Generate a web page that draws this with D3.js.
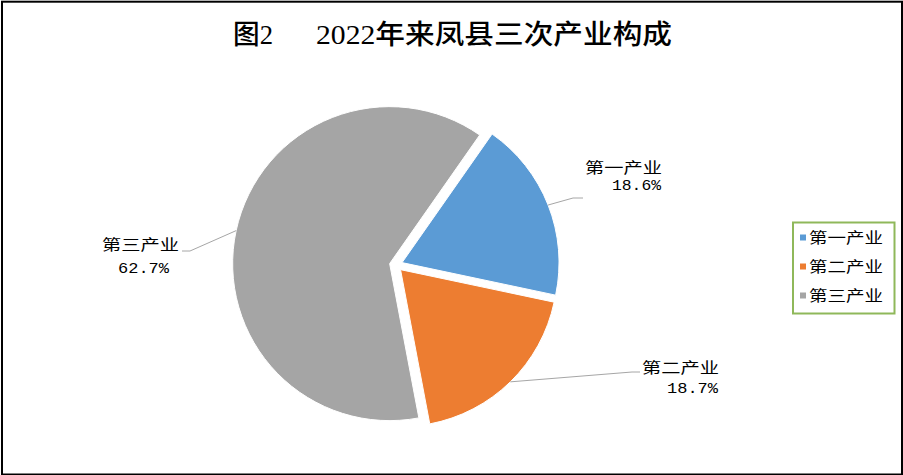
<!DOCTYPE html>
<html lang="zh">
<head>
<meta charset="UTF-8">
<script src="https://d3js.org/d3.v7.min.js"></script>
<title>2022年来凤县三次产业构成</title>
<style>
  body { margin: 0; background: #fff; }
  .lbl { font-family: "Noto Sans CJK SC", sans-serif; font-size: 15px; fill: #000; }
  .num { font-family: "Liberation Mono", "DejaVu Sans Mono", monospace; font-size: 15px; fill: #000; }
  .title { font-family: "Liberation Serif", "Noto Sans CJK SC", serif; font-size: 27px; font-weight: 500; fill: #000; }
</style>
</head>
<body>
<svg id="chart" width="903" height="475"></svg>
<script>
// data
const categories = ["第一产业", "第二产业", "第三产业"];
const shares = [18.6, 18.7, 62.7];
const valueLabels = ["18.6%", "18.7%", "62.7%"];
const colors = ["#5b9bd5", "#ed7d31", "#a5a5a5"];

const svg = d3.select("#chart");

// chart border
svg.append("rect")
  .attr("x", 2).attr("y", 1.7).attr("width", 900).attr("height", 472.8)
  .attr("fill", "#fff").attr("stroke", "#000").attr("stroke-width", 2);

// title
svg.append("text").attr("class", "title")
  .attr("x", 233).attr("y", 35).attr("dominant-baseline", "central")
  .attr("textLength", 40).attr("lengthAdjust", "spacingAndGlyphs")
  .text("图2");
svg.append("text").attr("class", "title")
  .attr("x", 316).attr("y", 35).attr("dominant-baseline", "central")
  .attr("textLength", 356).attr("lengthAdjust", "spacingAndGlyphs")
  .text("2022年来凤县三次产业构成");

// pie
const cx = 396, cy = 265, r = 157, explode = 6.5;
const pie = d3.pie().sort(null).startAngle(35 * Math.PI / 180).endAngle(395 * Math.PI / 180);
const arc = d3.arc().innerRadius(0).outerRadius(r);
const arcs = pie(shares);

const mid = d => (d.startAngle + d.endAngle) / 2;
const off = d => [Math.sin(mid(d)) * explode, -Math.cos(mid(d)) * explode];

const g = svg.append("g").attr("transform", `translate(${cx},${cy})`);
g.selectAll("path.slice")
  .data(arcs)
  .join("path")
  .attr("class", "slice")
  .attr("transform", d => `translate(${off(d)[0]},${off(d)[1]})`)
  .attr("d", arc)
  .attr("fill", (d, i) => colors[i])
  .attr("stroke", "#fff")
  .attr("stroke-width", 1);

// label layout (elbow, end of leader, name / value text boxes)
const labelLayout = [
  { elbow: [573, 198], end: [583, 198], name: [585, 166.5, 77], value: [612, 186.5, 49] },
  { elbow: [632, 372], end: [640, 372], name: [642, 366, 77], value: [667, 389, 51] },
  { elbow: [190, 251], end: [182, 251], name: [102, 243.5, 77], value: [118, 269, 51] }
];

const leaders = arcs.map((d, i) => {
  const o = off(d);
  const start = [cx + o[0] + Math.sin(mid(d)) * r, cy + o[1] - Math.cos(mid(d)) * r];
  return [start, labelLayout[i].elbow, labelLayout[i].end];
});

svg.selectAll("path.leader")
  .data(leaders)
  .join("path")
  .attr("class", "leader")
  .attr("d", d3.line())
  .attr("fill", "none")
  .attr("stroke", "#a6a6a6")
  .attr("stroke-width", 1);

svg.selectAll("text.name")
  .data(categories)
  .join("text")
  .attr("class", "lbl name")
  .attr("x", (d, i) => labelLayout[i].name[0])
  .attr("y", (d, i) => labelLayout[i].name[1])
  .attr("dominant-baseline", "central")
  .attr("textLength", (d, i) => labelLayout[i].name[2])
  .attr("lengthAdjust", "spacingAndGlyphs")
  .text(d => d);

svg.selectAll("text.val")
  .data(valueLabels)
  .join("text")
  .attr("class", "num val")
  .attr("x", (d, i) => labelLayout[i].value[0])
  .attr("y", (d, i) => labelLayout[i].value[1])
  .attr("dominant-baseline", "central")
  .attr("textLength", (d, i) => labelLayout[i].value[2])
  .attr("lengthAdjust", "spacingAndGlyphs")
  .text(d => d);

// legend
svg.append("rect")
  .attr("x", 793).attr("y", 222.5).attr("width", 101.5).attr("height", 91)
  .attr("fill", "#fff").attr("stroke", "#8fb85a").attr("stroke-width", 2);

const ly = d3.scalePoint().domain(categories).range([237.5, 295.5]);
const leg = svg.selectAll("g.leg")
  .data(categories)
  .join("g")
  .attr("class", "leg")
  .attr("transform", d => `translate(0,${ly(d)})`);
leg.append("rect")
  .attr("x", 800).attr("y", -3).attr("width", 6).attr("height", 6)
  .attr("fill", (d, i) => colors[i]);
leg.append("text")
  .attr("class", "lbl")
  .attr("x", 809).attr("y", -1)
  .attr("dominant-baseline", "central")
  .attr("textLength", 74)
  .attr("lengthAdjust", "spacingAndGlyphs")
  .text(d => d);
</script>
</body>
</html>
